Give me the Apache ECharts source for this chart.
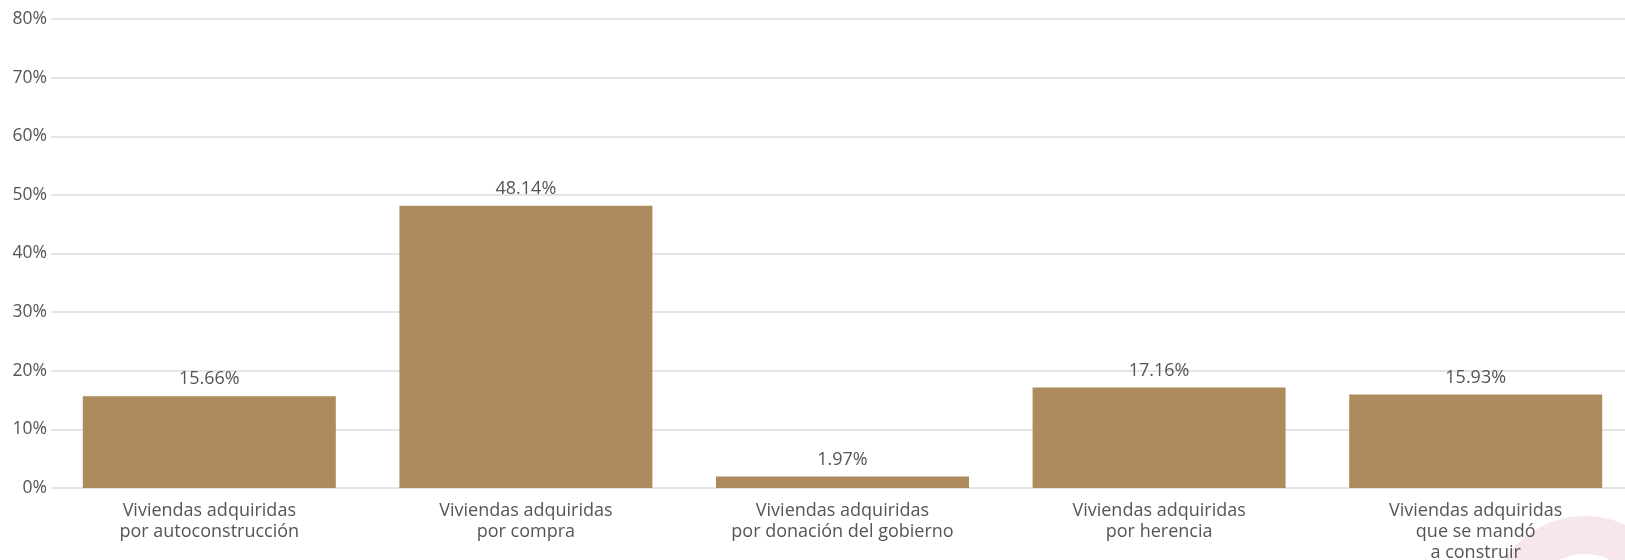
<!DOCTYPE html>
<html><head><meta charset="utf-8">
<script src="https://cdn.jsdelivr.net/npm/echarts@6/dist/echarts.min.js"></script>
<style>html,body{margin:0;padding:0;background:#fff}#c{width:1625px;height:560px}</style>
</head><body><div id="c"></div>
<script>
const categories = [
  "Viviendas adquiridas\npor autoconstrucción",
  "Viviendas adquiridas\npor compra",
  "Viviendas adquiridas\npor donación del gobierno",
  "Viviendas adquiridas\npor herencia",
  "Viviendas adquiridas\nque se mandó\na construir"
];
const values = [15.66, 48.14, 1.97, 17.16, 15.93];
const yTicks = [0, 10, 20, 30, 40, 50, 60, 70, 80];

const FONT = "'Open Sans', 'Noto Sans', sans-serif";
const chart = echarts.init(document.getElementById('c'), null, {renderer: 'canvas'});
chart.setOption({
  animation: false,
  backgroundColor: '#ffffff',
  graphic: [{
    type: 'ring', z: -10, silent: true,
    shape: {cx: 1585, cy: 612, r: 96, r0: 58},
    style: {fill: '#f7e6ea'}
  }],
  grid: {left: 51, width: 1583, top: 19, height: 469, containLabel: false, outerBoundsMode: 'none'},
  xAxis: {
    type: 'category', data: categories,
    axisLine: {show: false}, axisTick: {show: false},
    axisLabel: {color: '#555', fontFamily: FONT, fontSize: 18, lineHeight: 21, margin: 12, interval: 0}
  },
  yAxis: {
    type: 'value', min: yTicks[0], max: yTicks[yTicks.length - 1], interval: 10,
    axisLine: {show: false}, axisTick: {show: false},
    axisLabel: {color: '#555', fontFamily: FONT, fontSize: 17.5, margin: 4, formatter: v => v + '%'},
    splitLine: {lineStyle: {color: '#dcdcdc', width: 1.5}}
  },
  series: [{
    type: 'bar', data: values, barWidth: 253,
    itemStyle: {color: '#ae8b5c'},
    label: {show: true, position: 'top', distance: 8, color: '#555', fontFamily: FONT, fontSize: 18,
      formatter: p => p.value.toFixed(2) + '%'}
  }]
});
</script></body></html>
